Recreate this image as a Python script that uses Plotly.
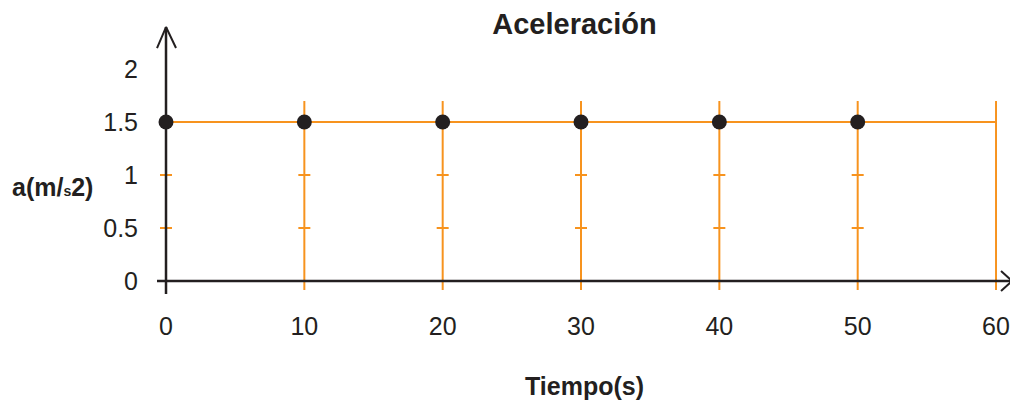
import plotly.graph_objects as go

# Data
tiempo = [0, 10, 20, 30, 40, 50]
aceleracion = [1.5, 1.5, 1.5, 1.5, 1.5, 1.5]
x_ticks = [0, 10, 20, 30, 40, 50, 60]
y_ticks = [0, 0.5, 1, 1.5, 2]
y_tick_labels = ["0", "0.5", "1", "1.5", "2"]

ORANGE = "#F7931E"
INK = "#231F20"
FONT = "Liberation Sans, Arial, sans-serif"

# pixel scale helpers (plot area: x 150..1010 px, y 20..300 px)
X_MIN, X_MAX = -1.157, 61.01
Y_MIN, Y_MAX = -0.179, 2.462
px_x = (X_MAX - X_MIN) / 860.0
px_y = (Y_MAX - Y_MIN) / 280.0

fig = go.Figure()

# orange vertical guides at each time mark (except the axis itself)
vx, vy = [], []
for t in x_ticks[1:]:
    vx += [t, t, None]
    vy += [-9 * px_y, 180 * px_y, None]
fig.add_trace(go.Scatter(x=vx, y=vy, mode="lines",
                         line=dict(color=ORANGE, width=2), hoverinfo="skip"))

# small orange cross ticks at 0.5 and 1
hx, hy = [], []
for t in x_ticks[:-1]:
    for v in (0.5, 1):
        hx += [t - 6 * px_x, t + 6 * px_x, None]
        hy += [v, v, None]
fig.add_trace(go.Scatter(x=hx, y=hy, mode="lines",
                         line=dict(color=ORANGE, width=2), hoverinfo="skip"))

# acceleration line
fig.add_trace(go.Scatter(x=[x_ticks[0], x_ticks[-1]], y=[aceleracion[0], aceleracion[-1]],
                         mode="lines", line=dict(color=ORANGE, width=2), hoverinfo="skip"))

# axes with open arrowheads
fig.add_trace(go.Scatter(x=[0, 0], y=[-13 * px_y, 254 * px_y], mode="lines",
                         line=dict(color=INK, width=2.5), hoverinfo="skip"))
fig.add_trace(go.Scatter(x=[-9 * px_x, -0 * px_x, 10 * px_x],
                         y=[233 * px_y, 254 * px_y, 233 * px_y], mode="lines",
                         line=dict(color=INK, width=2), hoverinfo="skip"))
fig.add_trace(go.Scatter(x=[-9 * px_x, 60 + 16 * px_x], y=[0, 0], mode="lines",
                         line=dict(color=INK, width=2.5), hoverinfo="skip"))
fig.add_trace(go.Scatter(x=[60 + 5 * px_x, 60 + 16 * px_x, 60 + 5 * px_x],
                         y=[10 * px_y, 0, -10 * px_y], mode="lines",
                         line=dict(color=INK, width=2), hoverinfo="skip"))

# data points
fig.add_trace(go.Scatter(x=tiempo, y=aceleracion, mode="markers",
                         marker=dict(color=INK, size=15), hoverinfo="skip"))

fig.update_layout(
    width=1015, height=402,
    margin=dict(l=150, r=5, t=20, b=102),
    paper_bgcolor="white", plot_bgcolor="white",
    showlegend=False,
    font=dict(family=FONT, color=INK),
    title=dict(text="<b>Aceleración</b>", x=0.566, xanchor="center",
               y=0.94, yanchor="middle", font=dict(size=29, color=INK)),
    xaxis=dict(range=[X_MIN, X_MAX], tickvals=x_ticks,
               ticktext=[str(t) for t in x_ticks],
               showgrid=False, zeroline=False, showline=False, ticks="",
               tickfont=dict(size=25, color=INK), ticklabelstandoff=9),
    yaxis=dict(range=[Y_MIN, Y_MAX], tickvals=y_ticks, ticktext=y_tick_labels,
               showgrid=False, zeroline=False, showline=False, ticks="",
               tickfont=dict(size=25, color=INK), ticklabelstandoff=11),
    annotations=[
        dict(text="<b>Tiempo(s)</b>", xref="paper", yref="paper",
             x=(584 - 150) / 860, y=-(386 - 300) / 280,
             xanchor="center", yanchor="middle", showarrow=False,
             font=dict(size=25, color=INK)),
        dict(text="<b>a(m/<span style='font-size:14px'>s</span>2)</b>",
             xref="paper", yref="paper",
             x=(10 - 150) / 860, y=(300 - 187) / 280,
             xanchor="left", yanchor="middle", showarrow=False,
             font=dict(size=25, color=INK)),
    ],
)

fig.write_html("out.html")
